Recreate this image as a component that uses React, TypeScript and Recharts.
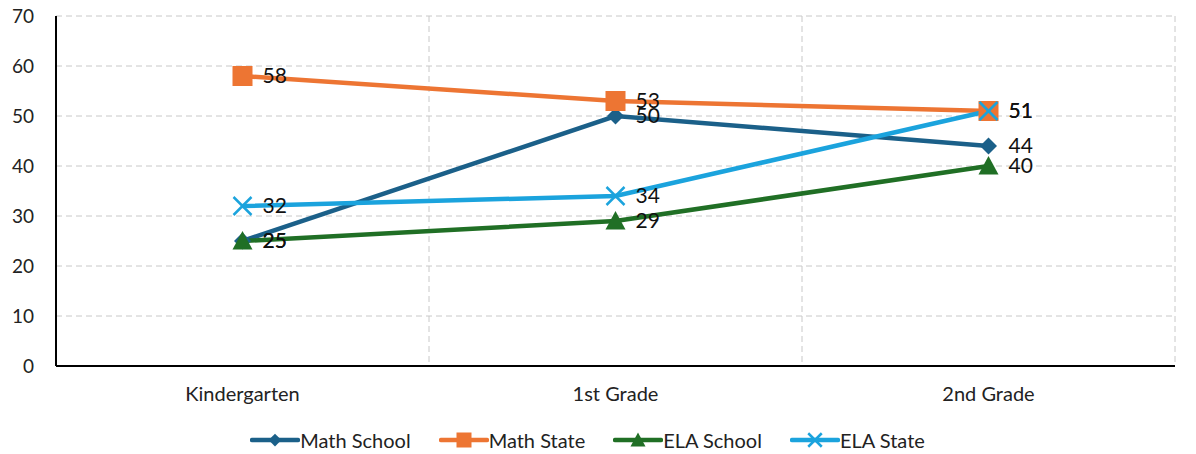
import React from 'react';
import {
  LineChart,
  Line,
  XAxis,
  YAxis,
  CartesianGrid,
  Legend,
  LabelList,
} from 'recharts';

const grades = ['Kindergarten', '1st Grade', '2nd Grade'];
const mathSchool = [25, 50, 44];
const mathState = [58, 53, 51];
const elaSchool = [25, 29, 40];
const elaState = [32, 34, 51];
const yTicks = [0, 10, 20, 30, 40, 50, 60, 70];

const data = grades.map((g, i) => ({
  name: g,
  mathSchool: mathSchool[i],
  mathState: mathState[i],
  elaSchool: elaSchool[i],
  elaState: elaState[i],
}));

const FONT = 'Lato, "Liberation Sans", sans-serif';

const series = [
  { key: 'mathSchool', name: 'Math School', color: '#1B6089', shape: 'diamond' },
  { key: 'mathState', name: 'Math State', color: '#ED7533', shape: 'square' },
  { key: 'elaSchool', name: 'ELA School', color: '#206F25', shape: 'triangle' },
  { key: 'elaState', name: 'ELA State', color: '#1BA3DD', shape: 'cross' },
];

const Marker = ({ cx, cy, shape, color, s = 1 }: any) => {
  if (cx == null || cy == null) return null;
  if (shape === 'diamond') {
    const r = 8.5 * s;
    return <polygon points={`${cx},${cy - r} ${cx + r},${cy} ${cx},${cy + r} ${cx - r},${cy}`} fill={color} />;
  }
  if (shape === 'square') {
    const r = 10 * s;
    return <rect x={cx - r} y={cy - r} width={r * 2} height={r * 2} fill={color} />;
  }
  if (shape === 'triangle') {
    const r = 10 * s;
    return <polygon points={`${cx},${cy - r} ${cx + r},${cy + r * 0.85} ${cx - r},${cy + r * 0.85}`} fill={color} />;
  }
  const r = 9 * s;
  return (
    <g stroke={color} strokeWidth={2.5}>
      <line x1={cx - r} y1={cy - r} x2={cx + r} y2={cy + r} />
      <line x1={cx - r} y1={cy + r} x2={cx + r} y2={cy - r} />
    </g>
  );
};

const renderLegend = () => (
  <div style={{ display: 'flex', justifyContent: 'center', fontFamily: FONT, fontSize: 20, color: '#222' }}>
    {series.map((s) => (
      <div key={s.key} style={{ display: 'flex', alignItems: 'center', margin: '0 14px' }}>
        <svg width={50} height={20}>
          <line x1={2} y1={10} x2={48} y2={10} stroke={s.color} strokeWidth={4.5} strokeLinecap="round" />
          <Marker cx={25} cy={10} shape={s.shape} color={s.color} s={0.75} />
        </svg>
        <span>{s.name}</span>
      </div>
    ))}
  </div>
);

export default function App() {
  return (
    <div style={{ position: 'absolute', left: 0, top: 0 }}>
      <LineChart
        width={1196}
        height={454}
        data={data}
        margin={{ top: 16, right: 21, left: 0, bottom: 0 }}
      >
        <CartesianGrid
          stroke="#c8c8c8"
          strokeDasharray="6 4"
          verticalCoordinatesGenerator={() => [56 + 373, 56 + 746, 56 + 1119]}
        />
        <XAxis
          dataKey="name"
          scale="band"
          axisLine={{ stroke: '#000', strokeWidth: 2 }}
          tickLine={false}
          tickMargin={15}
          height={62}
          tick={{ fill: '#222', fontSize: 20, fontFamily: FONT }}
        />
        <YAxis
          domain={[0, 70]}
          ticks={yTicks}
          width={56}
          axisLine={{ stroke: '#000', strokeWidth: 2 }}
          tickLine={false}
          tickMargin={16}
          tick={{ fill: '#222', fontSize: 19, fontFamily: FONT }}
        />
        <Legend verticalAlign="bottom" height={26} content={renderLegend} />
        {series.map((s) => (
          <Line
            key={s.key}
            dataKey={s.key}
            name={s.name}
            type="linear"
            stroke={s.color}
            strokeWidth={4.5}
            isAnimationActive={false}
            dot={(p: any) => <Marker key={`${s.key}-${p.index}`} cx={p.cx} cy={p.cy} shape={s.shape} color={s.color} />}
            activeDot={false}
          >
            <LabelList
              dataKey={s.key}
              position="right"
              offset={20}
              fill="#111"
              fontSize={21}
              fontFamily={FONT}
            />
          </Line>
        ))}
      </LineChart>
    </div>
  );
}
